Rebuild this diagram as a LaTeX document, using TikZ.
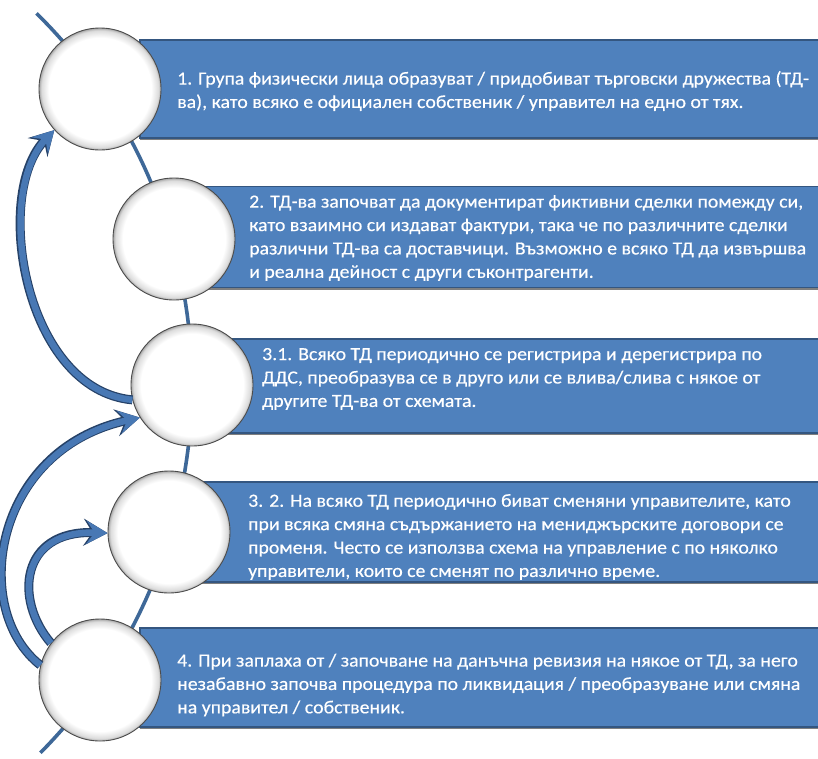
\documentclass[tikz,border=0pt]{standalone}
\usepackage{fontspec}
\setmainfont{Carlito}[FakeStretch=1.07,FakeBold=0.4]
\usetikzlibrary{arrows.meta,shadows,positioning}

\definecolor{panelfill}{RGB}{79,129,189}
\definecolor{paneledge}{RGB}{52,86,128}
\definecolor{spineblue}{RGB}{62,104,152}
\definecolor{arrowfill}{RGB}{72,120,180}
\definecolor{arrowedge}{RGB}{38,66,104}

\pgfdeclareradialshading{ballrim}{\pgfpoint{0bp}{0bp}}{%
  color(0bp)=(white); color(21bp)=(white); color(24bp)=(black!14);
  color(25bp)=(black!35); color(50bp)=(black!35)}

\tikzset{
  panel/.style={rectangle, fill=panelfill, draw=paneledge, line width=1.2pt,
    inner sep=0pt,
    drop shadow={shadow xshift=0pt, shadow yshift=-2pt, fill=black, opacity=.5}},
  paneltext/.style={text=white, align=left, inner sep=0pt, anchor=west,
    font=\fontsize{18.5}{23.4}\selectfont},
  ball/.style={circle, minimum size=122pt, inner sep=0pt, shading=ballrim,
    draw=black!70, line width=.9pt},
  spine/.style={draw=spineblue, line width=3.6pt},
  loopback/.style={draw=arrowfill, line width=6.5pt,
    -{Stealth[length=21pt,width=23pt,inset=8pt]},
    preaction={draw=arrowedge, line width=9pt,
      -{Stealth[length=24pt,width=27pt,inset=9pt]}}}
}

\begin{document}
\begin{tikzpicture}[x=1pt,y=-1pt]
  \useasboundingbox (0,0) rectangle (818,758);
  \fill[white] (0,0) rectangle (818,758);

  % background spine
  \draw[spine] plot[domain=-45.4:44.8, samples=80] ({-330+522*cos(\x)},{385+522*sin(\x)});

  % panels
  \node[panel, minimum width=690pt, minimum height=98pt] (box1) at (485,89) {};
  \node[panel, minimum width=640pt, minimum height=101pt] (box2) at (510,237) {};
  \node[panel, minimum width=615pt, minimum height=94pt] (box3) at (522.5,386) {};
  \node[panel, minimum width=640pt, minimum height=100pt] (box4) at (510,532) {};
  \node[panel, minimum width=690pt, minimum height=99pt] (box5) at (485,677.5) {};

  \node[paneltext] (txt1) at (177,91) {1. Група физически лица образуват / придобиват търговски дружества (ТД-\\ва), като всяко е официален собственик / управител на едно от тях.};
  \node[paneltext] (txt2) at (249,238) {2. ТД-ва започват да документират фиктивни сделки помежду си,\\като взаимно си издават фактури, така че по различните сделки\\различни ТД-ва са доставчици. Възможно е всяко ТД да извършва\\и реална дейност с други съконтрагенти.};
  \node[paneltext] (txt3) at (262,379) {3.1. Всяко ТД периодично се регистрира и дерегистрира по\\ДДС, преобразува се в друго или се влива/слива с някое от\\другите ТД-ва от схемата.};
  \node[paneltext] (txt4) at (248,537) {3. 2. На всяко ТД периодично биват сменяни управителите, като\\при всяка смяна съдържанието на мениджърските договори се\\променя. Често се използва схема на управление с по няколко\\управители, които се сменят по различно време.};
  \node[paneltext] (txt5) at (177,685) {4. При заплаха от / започване на данъчна ревизия на някое от ТД, за него\\незабавно започва процедура по ликвидация / преобразуване или смяна\\на управител / собственик.};

  % circles on the spine
  \node[ball] (c1) at (100,89) {};
  \node[ball] (c2) at (174,239) {};
  \node[ball] (c3) at (192,385) {};
  \node[ball] (c4) at (169,532) {};
  \node[ball] (c5) at (100,680) {};

  % curved arrows back up
  \draw[loopback] (c3.194) .. controls (25,390) and (-8,195) .. (c1.222);
  \draw[loopback] (c5.166) .. controls (-30,610) and (-8,450) .. (c3.212);
  \draw[loopback] (c5.143) .. controls (14,600) and (20,530) .. (c4.181);
\end{tikzpicture}
\end{document}
